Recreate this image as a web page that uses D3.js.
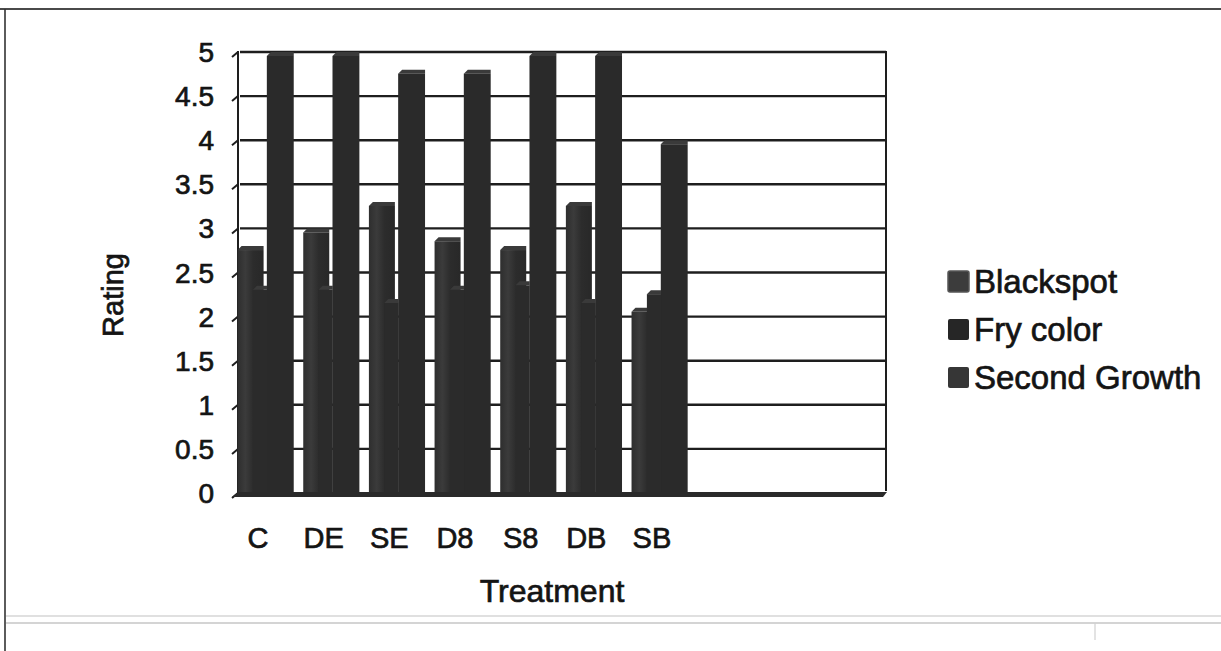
<!DOCTYPE html>
<html>
<head>
<meta charset="utf-8">
<script src="https://cdn.jsdelivr.net/npm/d3@7"></script>
<style>
  html, body { margin: 0; padding: 0; background: #fff; }
  svg { display: block; }
  text { font-family: "Liberation Sans", Arial, sans-serif; fill: #141414; stroke: #141414; stroke-width: 0.7px; }
</style>
</head>
<body>
<svg id="chart" width="1221" height="651"></svg>
<script>
// Potato storage treatments and their quality ratings
const categories = ["C", "DE", "SE", "D8", "S8", "DB", "SB"];
const blackspot = [2.8, 3.0, 3.3, 2.9, 2.8, 3.3, 2.1];
const fryColor = [2.35, 2.35, 2.2, 2.35, 2.4, 2.2, 2.3];
const secondGrowth = [5.0, 5.0, 4.8, 4.8, 5.0, 5.0, 4.0];
const seriesNames = ["Blackspot", "Fry color", "Second Growth"];
const yTicks = [0, 0.5, 1, 1.5, 2, 2.5, 3, 3.5, 4, 4.5, 5];
const slotCount = 10; // category axis reserves room for ten treatments

const svg = d3.select("#chart");

// page frame
svg.append("line").attr("x1", 0).attr("x2", 1221).attr("y1", 9).attr("y2", 9)
  .attr("stroke", "#4a4a4a").attr("stroke-width", 2.2);
svg.append("line").attr("x1", 5).attr("x2", 5).attr("y1", 9).attr("y2", 651)
  .attr("stroke", "#333").attr("stroke-width", 1.6);
// faint rule of the following box
svg.append("line").attr("x1", 6).attr("x2", 1221).attr("y1", 616).attr("y2", 616)
  .attr("stroke", "#d6d6d6").attr("stroke-width", 1.5);
svg.append("line").attr("x1", 6).attr("x2", 1221).attr("y1", 623).attr("y2", 623)
  .attr("stroke", "#c6c6c6").attr("stroke-width", 1.5);
svg.append("line").attr("x1", 1095).attr("x2", 1095).attr("y1", 623).attr("y2", 640)
  .attr("stroke", "#d0d0d0").attr("stroke-width", 1.2);

const y = d3.scaleLinear().domain([0, 5]).range([493, 52]);
const x = d3.scaleBand().domain(d3.range(slotCount)).range([237, 887])
  .paddingInner(0.1).paddingOuter(0).align(0);

const wallL = 240, wallR = 886;
const depth = 4;

// back wall gridlines
svg.append("g").selectAll("line").data(yTicks.filter(t => t > 0)).join("line")
  .attr("x1", wallL).attr("x2", wallR)
  .attr("y1", d => y(d)).attr("y2", d => y(d))
  .attr("stroke", "#1e1e1e").attr("stroke-width", 2.4);
// right wall edge
svg.append("line").attr("x1", wallR).attr("x2", wallR).attr("y1", y(5) - 1).attr("y2", y(0) - 2)
  .attr("stroke", "#1e1e1e").attr("stroke-width", 2);

// value axis with slanted ticks
const yAxis = svg.append("g");
yAxis.append("line").attr("x1", 238).attr("x2", 238).attr("y1", y(5) - 1).attr("y2", y(0) + 3)
  .attr("stroke", "#1e1e1e").attr("stroke-width", 2);
yAxis.selectAll("path.tick").data(yTicks).join("path")
  .attr("class", "tick")
  .attr("d", d => `M238,${y(d)} L232,${y(d) + 5}`)
  .attr("stroke", "#1e1e1e").attr("stroke-width", 2).attr("fill", "none");
yAxis.selectAll("text").data(yTicks).join("text")
  .attr("x", 214).attr("y", d => y(d) + 10)
  .attr("text-anchor", "end").attr("font-size", 28)
  .text(d => d3.format("")(d));

// bars
const defs = svg.append("defs");
const grad = defs.append("linearGradient").attr("id", "bsShade")
  .attr("x1", "0%").attr("x2", "100%");
grad.append("stop").attr("offset", "0%").attr("stop-color", "#2e2e2e");
grad.append("stop").attr("offset", "30%").attr("stop-color", "#3b3b3b");
grad.append("stop").attr("offset", "60%").attr("stop-color", "#2c2c2c");
grad.append("stop").attr("offset", "100%").attr("stop-color", "#282828");

const layout = [
  { name: seriesNames[0], values: blackspot, from: 0.01, to: 0.45, fill: "url(#bsShade)" },
  { name: seriesNames[2], values: secondGrowth, from: 0.505, to: 0.96, fill: "#2a2a2a" },
  { name: seriesNames[1], values: fryColor, from: 0.27, to: 0.51, fill: "#2b2b2b" }
];

const barsG = svg.append("g");
layout.forEach(s => {
  const g = barsG.append("g");
  const data = s.values.map((v, i) => ({ v, i }));
  const bw = x.bandwidth();
  const x0 = d => x(d.i) + s.from * bw;
  const x1 = d => x(d.i) + s.to * bw;
  // front face
  g.selectAll("rect").data(data).join("rect")
    .attr("x", x0).attr("width", d => x1(d) - x0(d))
    .attr("y", d => y(d.v) + depth).attr("height", d => y(0) - y(d.v) - depth)
    .attr("fill", s.fill);
  // top face
  g.selectAll("path.top").data(data).join("path").attr("class", "top")
    .attr("d", d => `M${x0(d)},${y(d.v) + depth} L${x0(d) + depth},${y(d.v)} L${x1(d)},${y(d.v)} L${x1(d)},${y(d.v) + depth} Z`)
    .attr("fill", "#3a3a3a");
});

// floor edge
svg.append("path")
  .attr("d", `M232,${y(0) + 4} L883,${y(0) + 4} L887,${y(0) - 1} L238,${y(0) - 1} Z`)
  .attr("fill", "#2a2a2a");

// category labels
svg.append("g").selectAll("text").data(categories).join("text")
  .attr("x", (d, i) => x(i) + 21).attr("y", 548)
  .attr("text-anchor", "middle").attr("font-size", 29)
  .text(d => d);

// axis titles
svg.append("text").attr("x", 552).attr("y", 602).attr("text-anchor", "middle")
  .attr("font-size", 32).text("Treatment");
svg.append("text").attr("transform", "translate(123,295) rotate(-90)")
  .attr("text-anchor", "middle").attr("font-size", 29).text("Rating");

// legend
const legendFills = ["#3c3c3c", "#262626", "#363636"];
const legend = svg.append("g").selectAll("g").data(seriesNames).join("g")
  .attr("transform", (d, i) => `translate(948,${271 + i * 48})`);
legend.append("rect").attr("width", 21).attr("height", 21).attr("rx", 2)
  .attr("fill", (d, i) => legendFills[i])
  .attr("stroke", (d, i) => i === 0 ? "#555" : "none").attr("stroke-width", 1.5);
legend.append("text").attr("x", 26).attr("y", 22).attr("font-size", 33)
  .text(d => d);
</script>
</body>
</html>
